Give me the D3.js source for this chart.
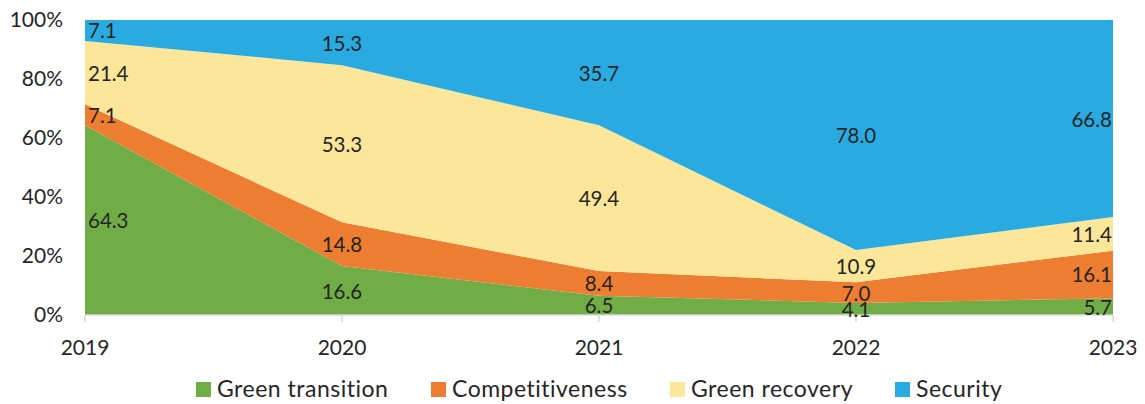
<!DOCTYPE html>
<html>
<head>
<meta charset="utf-8">
<script src="https://cdn.jsdelivr.net/npm/d3@7"></script>
<style>
  body { margin: 0; background: #fff; }
  svg text { font-family: Lato, "Open Sans", sans-serif; fill: #262626; }
</style>
</head>
<body>
<div id="chart"></div>
<script>
const years = ["2019", "2020", "2021", "2022", "2023"];
const seriesNames = ["Green transition", "Competitiveness", "Green recovery", "Security"];
const greenTransition = [64.3, 16.6, 6.5, 4.1, 5.7];
const competitiveness = [7.1, 14.8, 8.4, 7.0, 16.1];
const greenRecovery = [21.4, 53.3, 49.4, 10.9, 11.4];
const security = [7.1, 15.3, 35.7, 78.0, 66.8];
const colors = ["#70AD47", "#ED7D31", "#FCE699", "#29ABE2"];
const yTicks = [0, 20, 40, 60, 80, 100];

const width = 1145, height = 404;
const margin = { top: 20, right: 32, bottom: 89, left: 85 };

const rows = years.map((year, i) => ({
  year,
  "Green transition": greenTransition[i],
  "Competitiveness": competitiveness[i],
  "Green recovery": greenRecovery[i],
  "Security": security[i],
}));

const svg = d3.select("#chart").append("svg")
  .attr("width", width).attr("height", height);

const x = d3.scalePoint().domain(years).range([margin.left, width - margin.right]);
const y = d3.scaleLinear().domain([0, 100]).range([height - margin.bottom, margin.top]);

const stacked = d3.stack().keys(seriesNames)
  .offset(d3.stackOffsetExpand)(rows);

const area = d3.area()
  .x((d) => x(d.data.year))
  .y0((d) => y(d[0] * 100))
  .y1((d) => y(d[1] * 100));

svg.append("g").selectAll("path")
  .data(stacked)
  .join("path")
  .attr("fill", (d, i) => colors[i])
  .attr("d", area);

// x axis line and ticks
const axisY = y(0);
svg.append("line")
  .attr("x1", x(years[0])).attr("x2", x(years[years.length - 1]))
  .attr("y1", axisY).attr("y2", axisY)
  .attr("stroke", "#D9D9D9").attr("stroke-width", 1.5);
svg.append("g").selectAll("line")
  .data(years)
  .join("line")
  .attr("x1", (d) => x(d)).attr("x2", (d) => x(d))
  .attr("y1", axisY).attr("y2", axisY + 7)
  .attr("stroke", "#D9D9D9").attr("stroke-width", 1.5);

svg.append("g").selectAll("text")
  .data(years)
  .join("text")
  .attr("x", (d) => x(d))
  .attr("y", axisY + 40)
  .attr("text-anchor", "middle")
  .attr("font-size", 21)
  .text((d) => d);

// y axis labels
svg.append("g").selectAll("text")
  .data(yTicks)
  .join("text")
  .attr("x", 63)
  .attr("y", (d) => y(d) + 7)
  .attr("text-anchor", "end")
  .attr("font-size", 21)
  .text((d) => d + "%");

// data labels at band middles
stacked.forEach((layer) => {
  svg.append("g").selectAll("text")
    .data(layer)
    .join("text")
    .attr("x", (d, i) => i === 0 ? x(d.data.year) + 3 : i === years.length - 1 ? x(d.data.year) - 1 : x(d.data.year))
    .attr("y", (d) => y((d[0] + d[1]) / 2 * 100) + 8)
    .attr("text-anchor", (d, i) => i === 0 ? "start" : i === years.length - 1 ? "end" : "middle")
    .attr("font-size", 20.5)
    .text((d) => d.data[layer.key].toFixed(1));
});

// legend
const legendX = [196, 431, 670, 895];
const legend = svg.append("g").selectAll("g")
  .data(seriesNames)
  .join("g")
  .attr("transform", (d, i) => `translate(${legendX[i]}, 382)`);
legend.append("rect")
  .attr("width", 15).attr("height", 15)
  .attr("fill", (d, i) => colors[i]);
legend.append("text")
  .attr("x", 21).attr("y", 15)
  .attr("font-size", 23)
  .attr("letter-spacing", 0.5)
  .text((d) => d);
</script>
</body>
</html>
